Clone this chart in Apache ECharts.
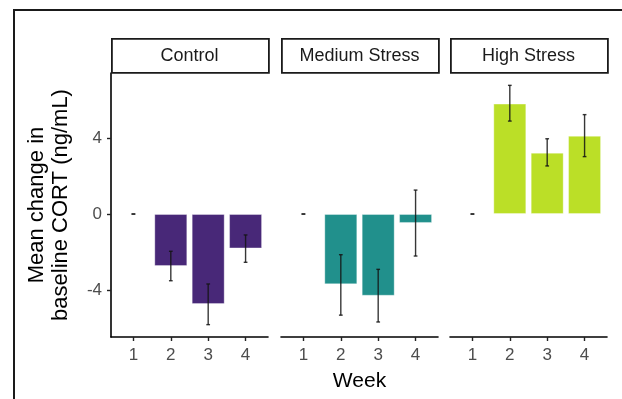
<!DOCTYPE html>
<html>
<head>
<meta charset="utf-8">
<script src="https://cdn.jsdelivr.net/npm/echarts@6/dist/echarts.min.js"></script>
<style>html,body{margin:0;padding:0;background:#fff;}#c{width:622px;height:399px;}</style>
</head>
<body>
<div id="c"></div>
<script>
const weeks = [1, 2, 3, 4];
const panels = ['Control', 'Medium Stress', 'High Stress'];
const colors = ['#482878', '#21908C', '#BBDF27'];
const controlMean = [0, -2.74, -4.74, -1.81];
const controlLow  = [0, -3.51, -5.82, -2.54];
const controlHigh = [0, -1.96, -3.68, -1.10];
const mediumMean = [0, -3.70, -4.30, -0.47];
const mediumLow  = [0, -5.32, -5.68, -2.21];
const mediumHigh = [0, -2.14, -2.91, 1.26];
const highMean = [0, 5.81, 3.23, 4.12];
const highLow  = [0, 4.89, 2.53, 3.02];
const highHigh = [0, 6.77, 3.96, 5.23];
const yTicks = [-4, 0, 4];
const yTickLabels = ['-4', '0', '4'];

const means = [controlMean, mediumMean, highMean];
const lows = [controlLow, mediumLow, highLow];
const highs = [controlHigh, mediumHigh, highHigh];

const FONT = 'Liberation Sans, Arial, sans-serif';
const gridLefts = [111, 281, 450];
const gridW = 157;
const gridTop = 73, gridH = 264;

const grids = [], xAxes = [], yAxes = [], series = [], graphics = [];
panels.forEach((p, i) => {
  grids.push({left: gridLefts[i], top: gridTop, width: gridW, height: gridH, containLabel: false});
  xAxes.push({
    type: 'value', gridIndex: i, min: 0.4, max: 4.6,
    splitLine: {show: false},
    axisLine: {show: true, onZero: false, lineStyle: {color: '#000', width: 1.6}},
    axisTick: {show: true, customValues: weeks, length: 4, lineStyle: {color: '#222', width: 1.4}},
    axisLabel: {show: true, customValues: weeks, margin: 10, color: '#4d4d4d', fontSize: 17, fontFamily: FONT,
      formatter: v => String(v)},
    name: i === 1 ? 'Week' : '', nameLocation: 'middle', nameGap: 34,
    nameTextStyle: {color: '#000', fontSize: 21, fontFamily: FONT}
  });
  yAxes.push({
    type: 'value', gridIndex: i, min: -6.47, max: 7.42,
    splitLine: {show: false},
    axisLine: {show: i === 0, onZero: false, lineStyle: {color: '#000', width: 1.6}},
    axisTick: {show: i === 0, customValues: yTicks, length: 4, lineStyle: {color: '#222', width: 1.4}},
    axisLabel: {show: i === 0, customValues: yTicks, margin: 9, color: '#4d4d4d', fontSize: 17, fontFamily: FONT,
      formatter: v => yTickLabels[yTicks.indexOf(Math.round(v))]},
    name: i === 0 ? 'Mean change in\nbaseline CORT (ng/mL)' : '', nameLocation: 'middle', nameGap: 38,
    nameTextStyle: {color: '#000', fontSize: 22, fontFamily: FONT, lineHeight: 24}
  });
  series.push({
    type: 'bar', xAxisIndex: i, yAxisIndex: i, barWidth: 33,
    itemStyle: {color: colors[i], borderColor: 'rgba(255,255,255,0.35)', borderWidth: 1},
    data: weeks.map((w, k) => [w, means[i][k]]),
    z: 2
  });
  series.push({
    type: 'custom', xAxisIndex: i, yAxisIndex: i, z: 5,
    data: weeks.map((w, k) => [w, lows[i][k], highs[i][k]]),
    encode: {x: 0, y: [1, 2]},
    renderItem: function (params, api) {
      const x = api.value(0), lo = api.value(1), hi = api.value(2);
      const pt = api.coord([x, hi]), pb = api.coord([x, lo]);
      const half = api.size([0.1, 0])[0] / 2;
      const st = {stroke: 'rgba(20,20,20,0.85)', lineWidth: 1.4};
      return {type: 'group', children: [
        {type: 'line', shape: {x1: pt[0], y1: pt[1], x2: pb[0], y2: pb[1]}, style: st},
        {type: 'line', shape: {x1: pt[0] - half, y1: pt[1], x2: pt[0] + half, y2: pt[1]}, style: st},
        {type: 'line', shape: {x1: pb[0] - half, y1: pb[1], x2: pb[0] + half, y2: pb[1]}, style: st}
      ]};
    }
  });
  graphics.push({
    type: 'rect', left: gridLefts[i], top: 38,
    shape: {width: gridW, height: 34},
    style: {fill: '#fff', stroke: '#1a1a1a', lineWidth: 1.8}, z: 10
  });
  graphics.push({
    type: 'text', x: gridLefts[i] + gridW / 2, y: 56,
    style: {text: p, fill: '#1a1a1a', font: '18px ' + FONT, align: 'center', verticalAlign: 'middle'}, z: 11
  });
});
graphics.push({
  type: 'polyline', shape: {points: [[14, 405], [14, 10], [630, 10]]},
  style: {stroke: '#1a1a1a', lineWidth: 2, fill: null}, z: 10
});

const chart = echarts.init(document.getElementById('c'), null, {renderer: 'canvas'});
chart.setOption({
  animation: false,
  backgroundColor: '#fff',
  grid: grids, xAxis: xAxes, yAxis: yAxes, series: series, graphic: graphics
});
</script>
</body>
</html>
